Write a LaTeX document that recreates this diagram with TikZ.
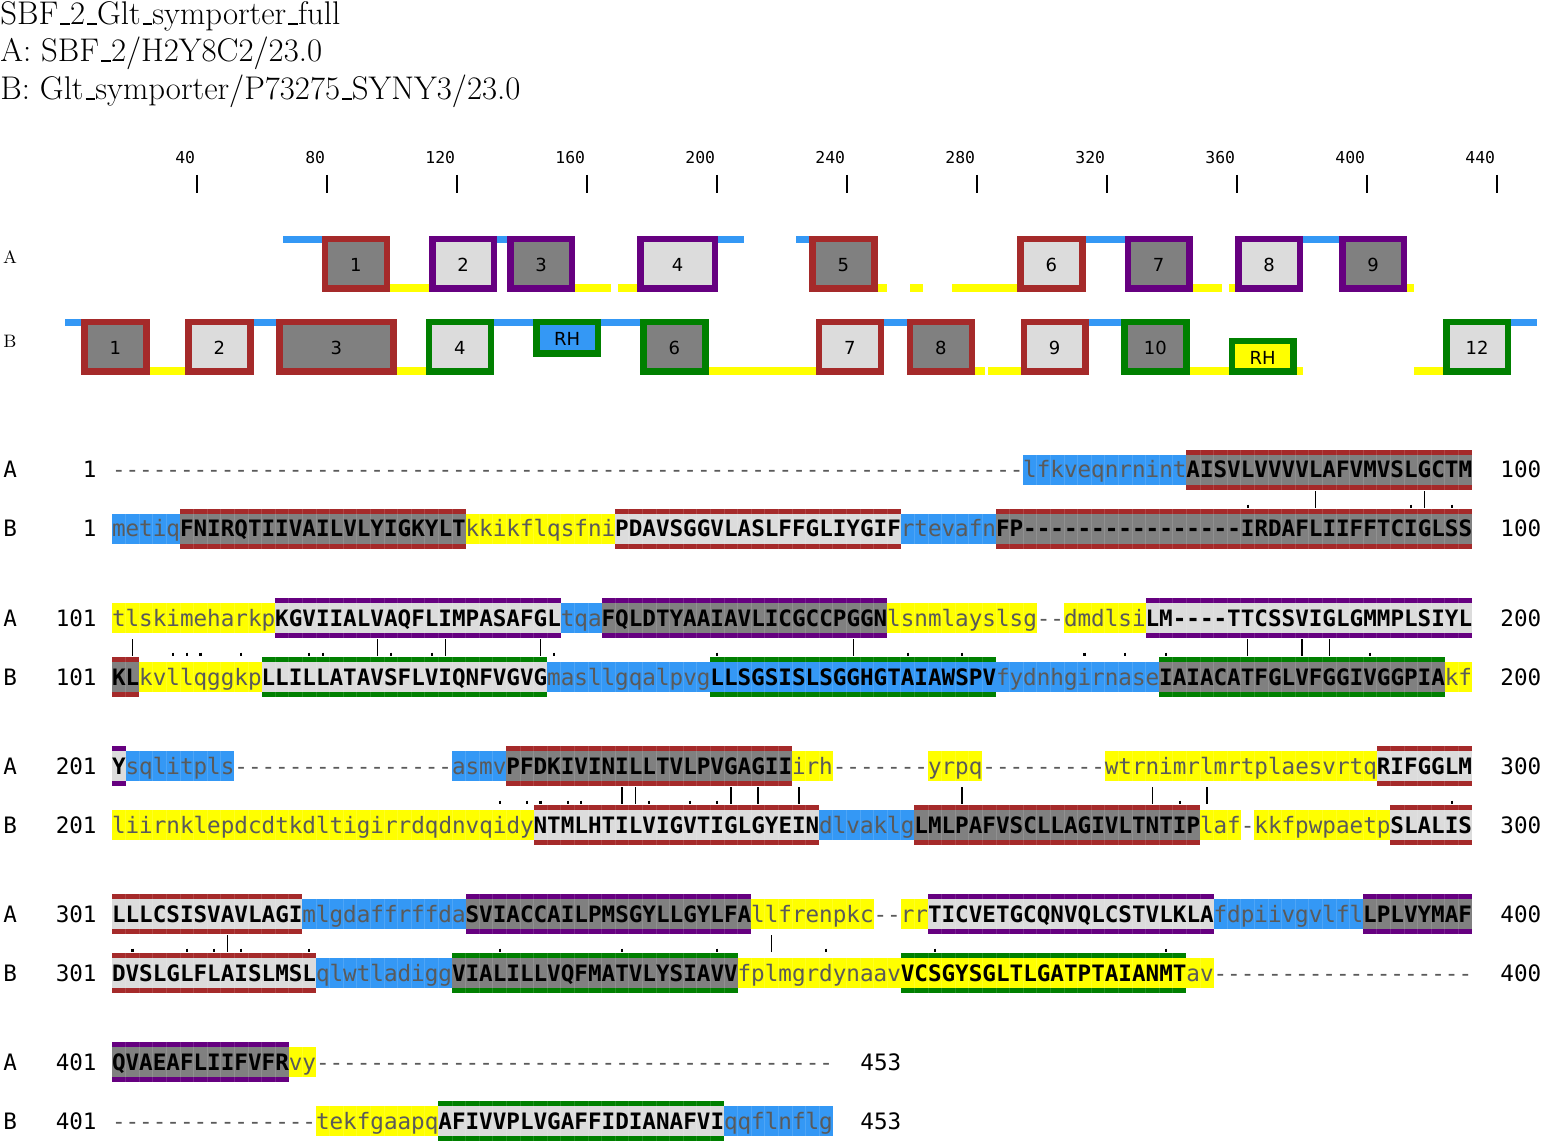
\documentclass[tikz,border=0pt]{standalone}
\usepackage{fontspec}
\setmonofont{DejaVu Sans Mono}
\newfontfamily\labfont{DejaVu Sans}
\definecolor{lblue}{RGB}{52,152,245}
\definecolor{lyel}{RGB}{255,255,0}
\definecolor{tmdark}{RGB}{128,128,128}
\definecolor{tmlight}{RGB}{220,220,220}
\definecolor{bred}{RGB}{165,42,42}
\definecolor{bpur}{RGB}{102,0,128}
\definecolor{bgrn}{RGB}{0,128,0}
\definecolor{looptext}{RGB}{90,90,90}
\newcommand\sqfont{\ttfamily\fontsize{11.3}{13}\selectfont}
\newcommand\us{\leavevmode\kern.06em\rule[-0.01em]{0.3em}{0.06em}}
\ExplSyntaxOn
\cs_new:Npn \mydashes #1 { \prg_replicate:nn {#1} {-} }
\ExplSyntaxOff
\tikzset{
  seqtxt/.style={anchor=base west, inner sep=0pt, outer sep=0pt, font=\sqfont},
  sepline/.style={white, opacity=0.13, line width=0.4pt},
  markline/.style={black, line width=0.7pt},
  markdot/.style={black, line width=1.1pt},
  boxlab/.style={font=\labfont\fontsize{9}{11}\selectfont, inner sep=0pt, text=black},
  rowlab/.style={anchor=base west, inner sep=0pt, font=\sqfont},
  numlab/.style={anchor=base east, inner sep=0pt, font=\sqfont},
  endlab/.style={anchor=base west, inner sep=0pt, font=\sqfont},
  headtxt/.style={anchor=base west, inner sep=0pt, font=\fontsize{16.4}{19}\selectfont},
  ruletxt/.style={anchor=base east, inner sep=0pt, font=\ttfamily\fontsize{8.2}{10}\selectfont},
  tracklab/.style={inner sep=0pt, font=\fontsize{9}{11}\selectfont},
}
% sequence segments
\newcommand\cellsep[4]{\ifnum#3>1 \pgfmathtruncatemacro\nn{#3-1}%
  \foreach \k in {1,...,\nn}{\draw[sepline] ({112+(#2-1+\k)*13.6},{#1-#4}) -- ++(0,{2*#4});}\fi}
\newcommand\sD[3]{\node[seqtxt, text=looptext] at ({112+(#2-1)*13.6},{#1+8}) {#3};}
\newcommand\sL[5]{%
  \fill[#4] ({112+(#2-1)*13.6},{#1-15}) rectangle ++({#3*13.6},30);
  \cellsep{#1}{#2}{#3}{15}
  \node[seqtxt, text=looptext] at ({112+(#2-1)*13.6},{#1+8}) {#5};}
\newcommand\sT[6]{%
  \fill[#5] ({112+(#2-1)*13.6},{#1-15}) rectangle ++({#3*13.6},30);
  \fill[#4] ({112+(#2-1)*13.6},{#1-20}) rectangle ++({#3*13.6},5.3);
  \fill[#4] ({112+(#2-1)*13.6},{#1+14.7}) rectangle ++({#3*13.6},5.3);
  \cellsep{#1}{#2}{#3}{20}
  \node[seqtxt, font=\sqfont\bfseries, text=black] at ({112+(#2-1)*13.6},{#1+8}) {#6};}
\newcommand\idm[2]{\draw[markline] ({112+(#2-0.5)*13.6},{#1+21}) -- ++(0,17);}
\newcommand\smm[2]{\draw[markdot] ({112+(#2-0.5)*13.6},{#1+34.5}) -- ++(0,3.5);}
\newcommand\rowlabels[5]{% y, letter, start, end, endx
  \node[rowlab] at (3,{#1+8}) {#2};
  \node[numlab] at (97,{#1+8}) {#3};
  \node[endlab] at (#5,{#1+8}) {#4};}
% track segments
\newcommand\tblue[3]{\fill[lblue] ({65+(#2-1)*3.25},#1) rectangle ({65+#3*3.25},{#1+7});}
\newcommand\tyel[3]{\fill[lyel] ({65+(#2-1)*3.25},{#1-8}) rectangle ({65+#3*3.25},#1);}
\newcommand\tbox[8]{% name, top, bot, c1, c2, border, bg, label
  \fill[#6] ({65+(#4-1)*3.25},#2) rectangle ({65+#5*3.25},#3);
  \fill[#7] ({65+(#4-1)*3.25+6.5},{#2+6.5}) rectangle ({65+#5*3.25-6.5},{#3-6.5});
  \node[boxlab] (#1) at ({65+(#4-1+#5)*3.25/2},{(#2+#3)/2+1}) {#8};}
\begin{document}
\begin{tikzpicture}[x=0.5pt,y=-0.5pt]
\useasboundingbox (0,0) rectangle (1542,1144);
% header
\node[headtxt] (h1) at (0,24.5) {SBF\us 2\us Glt\us symporter\us full};
\node[headtxt] (h2) at (0,62) {A: SBF\us 2/H2Y8C2/23.0};
\node[headtxt] (h3) at (0,100) {B: Glt\us symporter/P73275\us SYNY3/23.0};
% ruler
\foreach \v [count=\i from 0] in {40,80,...,440}{
  \node[ruletxt] at ({197+130*\i-1.5},164) {\v};
  \draw[black, line width=0.6pt] ({197+130*\i},175) -- ({197+130*\i},193);
}
% track labels
\node[tracklab] (tA) at (10,257) {A};
\node[tracklab] (tB) at (10,341) {B};
% track A
\tblue{236}{68}{79}
\tbox{a1}{236}{292}{80}{100}{bred}{tmdark}{1}
\tyel{292}{101}{112}
\tbox{a2}{236}{292}{113}{133}{bpur}{tmlight}{2}
\tblue{236}{134}{136}
\tbox{a3}{236}{292}{137}{157}{bpur}{tmdark}{3}
\tyel{292}{158}{168}
\tyel{292}{171}{176}
\tbox{a4}{236}{292}{177}{201}{bpur}{tmlight}{4}
\tblue{236}{202}{209}
\tblue{236}{226}{229}
\tbox{a5}{236}{292}{230}{250}{bred}{tmdark}{5}
\tyel{292}{251}{253}
\tyel{292}{261}{264}
\tyel{292}{274}{293}
\tbox{a6}{236}{292}{294}{314}{bred}{tmlight}{6}
\tblue{236}{315}{326}
\tbox{a7}{236}{292}{327}{347}{bpur}{tmdark}{7}
\tyel{292}{348}{356}
\tyel{292}{359}{360}
\tbox{a8}{236}{292}{361}{381}{bpur}{tmlight}{8}
\tblue{236}{382}{392}
\tbox{a9}{236}{292}{393}{413}{bpur}{tmdark}{9}
\tyel{292}{414}{415}
% track B
\tblue{319}{1}{5}
\tbox{b1}{319}{375}{6}{26}{bred}{tmdark}{1}
\tyel{375}{27}{37}
\tbox{b2}{319}{375}{38}{58}{bred}{tmlight}{2}
\tblue{319}{59}{65}
\tbox{b3}{319}{375}{66}{102}{bred}{tmdark}{3}
\tyel{375}{103}{111}
\tbox{b4}{319}{375}{112}{132}{bgrn}{tmlight}{4}
\tblue{319}{133}{144}
\tbox{b5}{319}{357}{145}{165}{bgrn}{lblue}{RH}
\tblue{319}{166}{177}
\tbox{b6}{319}{375}{178}{198}{bgrn}{tmdark}{6}
\tyel{375}{199}{231}
\tbox{b7}{319}{375}{232}{252}{bred}{tmlight}{7}
\tblue{319}{253}{259}
\tbox{b8}{319}{375}{260}{280}{bred}{tmdark}{8}
\tyel{375}{281}{283}
\tyel{375}{285}{294}
\tbox{b9}{319}{375}{295}{315}{bred}{tmlight}{9}
\tblue{319}{316}{325}
\tbox{b10}{319}{375}{326}{346}{bgrn}{tmdark}{10}
\tyel{375}{347}{358}
\tyel{375}{380}{381}
\tbox{b11}{338}{375}{359}{379}{bgrn}{lyel}{RH}
\tyel{375}{416}{424}
\tbox{b12}{319}{375}{425}{445}{bgrn}{tmlight}{12}
\tblue{319}{446}{453}
% ---------- rows 1-100
\rowlabels{470}{A}{1}{100}{1500}
\rowlabels{529}{B}{1}{100}{1500}
\sD{470}{1}{\mydashes{67}}
\sL{470}{68}{12}{lblue}{lfkveqnrnint}
\sT{470}{80}{21}{bred}{tmdark}{AISVLVVVVLAFVMVSLGCTM}
\sL{529}{1}{5}{lblue}{metiq}
\sT{529}{6}{21}{bred}{tmdark}{FNIRQTIIVAILVLYIGKYLT}
\sL{529}{27}{11}{lyel}{kkikflqsfni}
\sT{529}{38}{21}{bred}{tmlight}{PDAVSGGVLASLFFGLIYGIF}
\sL{529}{59}{7}{lblue}{rtevafn}
\sT{529}{66}{35}{bred}{tmdark}{FP\mydashes{16}IRDAFLIIFFTCIGLSS}
\foreach \p in {89,97}{\idm{470}{\p}}
\foreach \p in {84,96,99}{\smm{470}{\p}}
% ---------- rows 101-200
\rowlabels{618}{A}{101}{200}{1500}
\rowlabels{677}{B}{101}{200}{1500}
\sL{618}{1}{12}{lyel}{tlskimeharkp}
\sT{618}{13}{21}{bpur}{tmlight}{KGVIIALVAQFLIMPASAFGL}
\sL{618}{34}{3}{lblue}{tqa}
\sT{618}{37}{21}{bpur}{tmdark}{FQLDTYAAIAVLICGCCPGGN}
\sL{618}{58}{11}{lyel}{lsnmlayslsg}
\sD{618}{69}{\mydashes{2}}
\sL{618}{71}{6}{lyel}{dmdlsi}
\sT{618}{77}{24}{bpur}{tmlight}{LM\mydashes{4}TTCSSVIGLGMMPLSIYL}
\sT{677}{1}{2}{bred}{tmdark}{KL}
\sL{677}{3}{9}{lyel}{kvllqggkp}
\sT{677}{12}{21}{bgrn}{tmlight}{LLILLATAVSFLVIQNFVGVG}
\sL{677}{33}{12}{lblue}{masllgqalpvg}
\sT{677}{45}{21}{bgrn}{lblue}{LLSGSISLSGGHGTAIAWSPV}
\sL{677}{66}{12}{lblue}{fydnhgirnase}
\sT{677}{78}{21}{bgrn}{tmdark}{IAIACATFGLVFGGIVGGPIA}
\sL{677}{99}{2}{lyel}{kf}
\foreach \p in {2,20,25,32,55,84,88,90}{\idm{618}{\p}}
\foreach \p in {5,6,7,10,15,16,21,24,33,45,59,63,72,75,78,93}{\smm{618}{\p}}
% ---------- rows 201-300
\rowlabels{766}{A}{201}{300}{1500}
\rowlabels{825}{B}{201}{300}{1500}
\sT{766}{1}{1}{bpur}{tmlight}{Y}
\sL{766}{2}{8}{lblue}{sqlitpls}
\sD{766}{10}{\mydashes{16}}
\sL{766}{26}{4}{lblue}{asmv}
\sT{766}{30}{21}{bred}{tmdark}{PFDKIVINILLTVLPVGAGII}
\sL{766}{51}{3}{lyel}{irh}
\sD{766}{54}{\mydashes{7}}
\sL{766}{61}{4}{lyel}{yrpq}
\sD{766}{65}{\mydashes{9}}
\sL{766}{74}{20}{lyel}{wtrnimrlmrtplaesvrtq}
\sT{766}{94}{7}{bred}{tmlight}{RIFGGLM}
\sL{825}{1}{31}{lyel}{liirnklepdcdtkdltigirrdqdnvqidy}
\sT{825}{32}{21}{bred}{tmlight}{NTMLHTILVIGVTIGLGYEIN}
\sL{825}{53}{7}{lblue}{dlvaklg}
\sT{825}{60}{21}{bred}{tmdark}{LMLPAFVSCLLAGIVLTNTIP}
\sL{825}{81}{3}{lyel}{laf}
\sD{825}{84}{-}
\sL{825}{85}{10}{lyel}{kkfpwpaetp}
\sT{825}{95}{6}{bred}{tmlight}{SLALIS}
\foreach \p in {38,39,46,48,51,63,77,81}{\idm{766}{\p}}
\foreach \p in {29,31,32,34,35,40,43,45,79,99}{\smm{766}{\p}}
% ---------- rows 301-400
\rowlabels{914}{A}{301}{400}{1500}
\rowlabels{973}{B}{301}{400}{1500}
\sT{914}{1}{14}{bred}{tmlight}{LLLCSISVAVLAGI}
\sL{914}{15}{12}{lblue}{mlgdaffrffda}
\sT{914}{27}{21}{bpur}{tmdark}{SVIACCAILPMSGYLLGYLFA}
\sL{914}{48}{9}{lyel}{llfrenpkc}
\sD{914}{57}{\mydashes{2}}
\sL{914}{59}{2}{lyel}{rr}
\sT{914}{61}{21}{bpur}{tmlight}{TICVETGCQNVQLCSTVLKLA}
\sL{914}{82}{11}{lblue}{fdpiivgvlfl}
\sT{914}{93}{8}{bpur}{tmdark}{LPLVYMAF}
\sT{973}{1}{15}{bred}{tmlight}{DVSLGLFLAISLMSL}
\sL{973}{16}{10}{lblue}{qlwtladigg}
\sT{973}{26}{21}{bgrn}{tmdark}{VIALILLVQFMATVLYSIAVV}
\sL{973}{47}{12}{lyel}{fplmgrdynaav}
\sT{973}{59}{21}{bgrn}{lyel}{VCSGYSGLTLGATPTAIANMT}
\sL{973}{80}{2}{lyel}{av}
\sD{973}{82}{\mydashes{19}}
\foreach \p in {9,49}{\idm{914}{\p}}
\foreach \p in {2,6,8,10,15,29,38,45,53,61,78}{\smm{914}{\p}}
% ---------- rows 401-453
\rowlabels{1062}{A}{401}{453}{860}
\rowlabels{1121}{B}{401}{453}{860}
\sT{1062}{1}{13}{bpur}{tmdark}{QVAEAFLIIFVFR}
\sL{1062}{14}{2}{lyel}{vy}
\sD{1062}{16}{\mydashes{38}}
\sD{1121}{1}{\mydashes{15}}
\sL{1121}{16}{9}{lyel}{tekfgaapq}
\sT{1121}{25}{21}{bgrn}{tmlight}{AFIVVPLVGAFFIDIANAFVI}
\sL{1121}{46}{8}{lblue}{qqflnflg}
\end{tikzpicture}
\end{document}
